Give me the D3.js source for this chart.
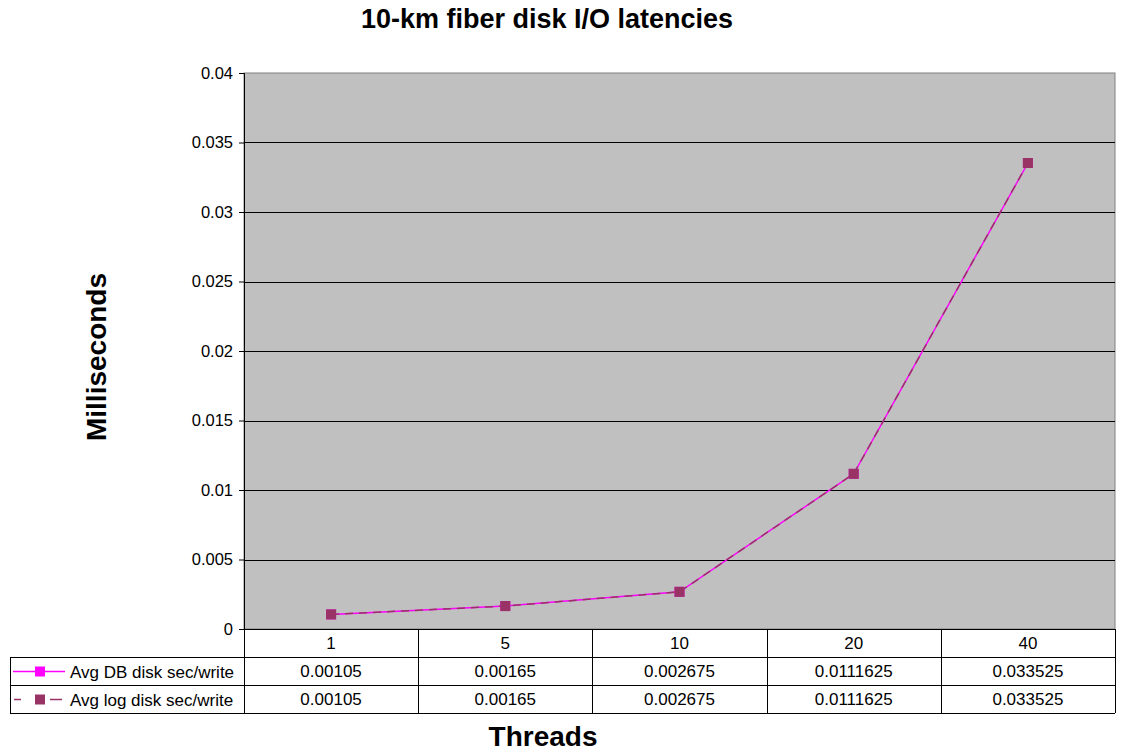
<!DOCTYPE html>
<html>
<head>
<meta charset="utf-8">
<script src="https://cdn.jsdelivr.net/npm/d3@7"></script>
<style>
  body { margin: 0; background: #fff; }
  text { font-family: "Liberation Sans", Arial, sans-serif; }
</style>
</head>
<body>
<div id="chart"></div>
<script>
var threads = ["1", "5", "10", "20", "40"];
var dbWrite = [0.00105, 0.00165, 0.002675, 0.0111625, 0.033525];
var logWrite = [0.00105, 0.00165, 0.002675, 0.0111625, 0.033525];
var seriesNames = ["Avg DB disk sec/write", "Avg log disk sec/write"];
var yTicks = [0, 0.005, 0.01, 0.015, 0.02, 0.025, 0.03, 0.035, 0.04];

var W = 1123, H = 753;
var plot = { left: 244, top: 73, right: 1115, bottom: 629 };
var rowH = 28;
var tableLeft = 10;
var fs = 16.5;   // tick labels
var tfs = 17;    // table text

var svg = d3.select("#chart").append("svg")
    .attr("width", W)
    .attr("height", H);

var x = d3.scaleBand().domain(threads).range([plot.left, plot.right]);
var y = d3.scaleLinear().domain([0, 0.04]).range([plot.bottom, plot.top]);

// plot background
svg.append("rect")
    .attr("x", plot.left).attr("y", plot.top)
    .attr("width", plot.right - plot.left).attr("height", plot.bottom - plot.top)
    .attr("fill", "#c0c0c0")
    .attr("stroke", "#808080");

// gridlines
svg.selectAll(".grid")
    .data(yTicks.slice(1, -1))
    .enter().append("line")
    .attr("x1", plot.left).attr("x2", plot.right)
    .attr("y1", function (d) { return Math.round(y(d)) + 0.5; })
    .attr("y2", function (d) { return Math.round(y(d)) + 0.5; })
    .attr("stroke", "#000");

// y axis
var yAxis = d3.axisLeft(y).tickValues(yTicks).tickSize(5).tickPadding(6)
    .tickFormat(function (d) { return d3.format("")(+d.toFixed(3)); });
var gy = svg.append("g")
    .attr("transform", "translate(" + plot.left + ",0)")
    .call(yAxis);
gy.select(".domain").attr("stroke", "#000");
gy.selectAll(".tick line").attr("stroke", "#000");
gy.selectAll(".tick text").attr("font-size", fs).attr("fill", "#000")
    .style("font-family", "'Liberation Sans', Arial, sans-serif");

// data table
var tableTop = plot.bottom;
var table = svg.append("g").attr("stroke", "#000").attr("stroke-width", 1);
[0, 1, 2, 3].forEach(function (i) {
    var yy = tableTop + i * rowH + 0.5;
    table.append("line")
        .attr("x1", i === 0 ? plot.left : tableLeft).attr("x2", plot.right)
        .attr("y1", yy).attr("y2", yy);
});
table.append("line")
    .attr("x1", tableLeft + 0.5).attr("x2", tableLeft + 0.5)
    .attr("y1", tableTop + rowH).attr("y2", tableTop + 3 * rowH);
threads.forEach(function (t) {
    var xx = Math.round(x(t)) + 0.5;
    table.append("line")
        .attr("x1", xx).attr("x2", xx)
        .attr("y1", tableTop).attr("y2", tableTop + 3 * rowH);
});
table.append("line")
    .attr("x1", plot.right + 0.5).attr("x2", plot.right + 0.5)
    .attr("y1", tableTop).attr("y2", tableTop + 3 * rowH);

// category labels
svg.selectAll(".cat")
    .data(threads)
    .enter().append("text")
    .attr("x", function (d) { return x(d) + x.bandwidth() / 2; })
    .attr("y", tableTop + rowH / 2 + 6)
    .attr("text-anchor", "middle")
    .attr("font-size", tfs)
    .text(function (d) { return d; });

var seriesData = [dbWrite, logWrite];
seriesData.forEach(function (vals, r) {
    svg.selectAll(".val" + r)
        .data(vals)
        .enter().append("text")
        .attr("x", function (d, i) { return x(threads[i]) + x.bandwidth() / 2; })
        .attr("y", tableTop + (r + 1) * rowH + rowH / 2 + 6)
        .attr("text-anchor", "middle")
        .attr("font-size", tfs)
        .text(function (d) { return d; });
});

// series lines
var line = d3.line()
    .x(function (d, i) { return x(threads[i]) + x.bandwidth() / 2; })
    .y(function (d) { return y(d); });

var styles = [
    { color: "#ff00ff", dash: null, key: null },
    { color: "#993366", dash: "8,6", key: "7,29,12" }
];

seriesData.forEach(function (vals, r) {
    svg.append("path")
        .datum(vals)
        .attr("fill", "none")
        .attr("stroke", styles[r].color)
        .attr("stroke-width", 1.5)
        .attr("stroke-dasharray", styles[r].dash)
        .attr("d", line);
});
seriesData.forEach(function (vals, r) {
    svg.selectAll(".mk" + r)
        .data(vals)
        .enter().append("rect")
        .attr("x", function (d, i) { return x(threads[i]) + x.bandwidth() / 2 - 5; })
        .attr("y", function (d) { return y(d) - 5; })
        .attr("width", 10).attr("height", 10)
        .attr("fill", styles[r].color);
});

// legend keys in table
seriesNames.forEach(function (name, r) {
    var cy = tableTop + (r + 1) * rowH + rowH / 2 + 0.5;
    svg.append("line")
        .attr("x1", r ? 14 : 13).attr("x2", r ? 62 : 65)
        .attr("y1", cy).attr("y2", cy)
        .attr("stroke", styles[r].color)
        .attr("stroke-width", 1.5)
        .attr("stroke-dasharray", styles[r].key);
    svg.append("rect")
        .attr("x", 35).attr("y", cy - 5)
        .attr("width", 10).attr("height", 10)
        .attr("fill", styles[r].color);
    svg.append("text")
        .attr("x", 70).attr("y", cy + 6)
        .attr("font-size", tfs)
        .text(name);
});

// titles
svg.append("text")
    .attr("x", 547).attr("y", 28)
    .attr("text-anchor", "middle")
    .attr("font-size", 27).attr("font-weight", "bold")
    .text("10-km fiber disk I/O latencies");

svg.append("text")
    .attr("transform", "translate(106,357) rotate(-90)")
    .attr("text-anchor", "middle")
    .attr("font-size", 28).attr("font-weight", "bold")
    .text("Milliseconds");

svg.append("text")
    .attr("x", 543).attr("y", 746)
    .attr("text-anchor", "middle")
    .attr("font-size", 28).attr("font-weight", "bold")
    .text("Threads");
</script>
</body>
</html>
